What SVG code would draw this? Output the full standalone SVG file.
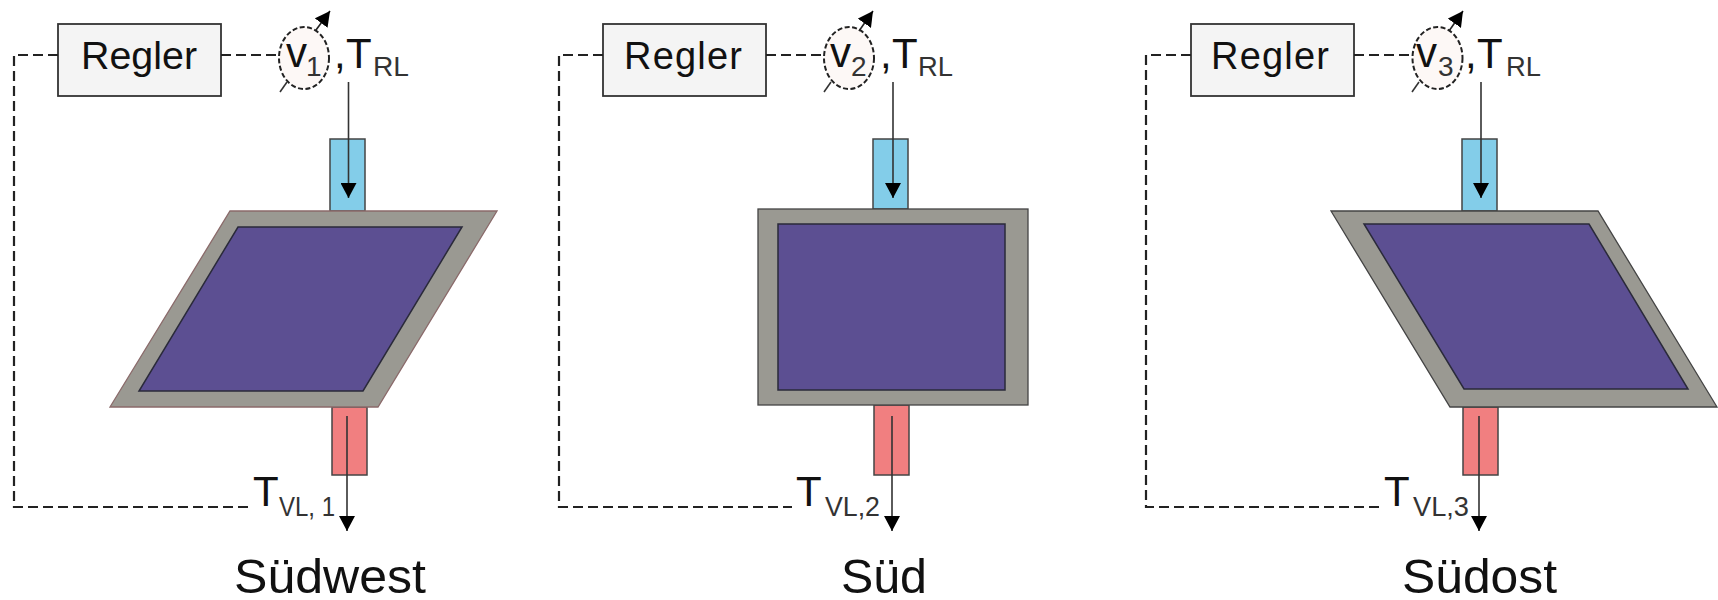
<svg xmlns="http://www.w3.org/2000/svg" width="1718" height="600" viewBox="0 0 1718 600">
<style>
text{font-family:"Liberation Sans",Arial,sans-serif;fill:#111}
.reg{font-size:38px}
.big{font-size:42px}
.sub{font-size:28px;fill:#333}
.cap{font-size:48px}
.box{fill:#f4f4f4;stroke:#333;stroke-width:1.8}
.blue{fill:#83cde9;stroke:#444;stroke-width:1.5}
.red{fill:#f17f80;stroke:#444;stroke-width:1.5}
.frame{fill:#9a9992;stroke:#444;stroke-width:1.3}
.frame1{fill:#9a9992;stroke:#8a6a6a;stroke-width:1.3}
.panel{fill:#5c4f92;stroke:#2a2a3a;stroke-width:1.5}
.valve{fill:#fdf8f6;stroke:#222;stroke-width:2;stroke-dasharray:5 2.500}
.dash{fill:none;stroke:#222;stroke-width:2.200;stroke-dasharray:10 5}
.flow{fill:none;stroke:#333;stroke-width:1.6}
.flowa{fill:none;stroke:#333;stroke-width:1.6;marker-end:url(#head)}
.act{fill:none;stroke:#222;stroke-width:1.6;marker-end:url(#head)}
</style>
<defs>
<marker id="head" markerUnits="userSpaceOnUse" markerWidth="16" markerHeight="16" refX="15" refY="8" orient="auto"><path d="M0 0L15 8L0 16Z" fill="#000"/></marker>
</defs>

<g id="sued-west">
<rect class="blue" x="330" y="139" width="35" height="72"/>
<rect class="red" x="332" y="407" width="35" height="68"/>
<path class="frame1" d="M230 211H497L378 407H110Z"/>
<path class="panel" d="M238 227H462L363 391H139Z"/>
<rect class="box" x="58" y="24" width="163" height="72"/>
<text class="reg" x="81" y="69" textLength="116" lengthAdjust="spacingAndGlyphs">Regler</text>
<ellipse class="valve" cx="304" cy="58" rx="25" ry="31"/>
<text class="big" x="286" y="67">v</text><text class="sub" x="306" y="76">1</text>
<text class="big" x="334" y="68">,</text><text class="big" x="346" y="68">T</text><text class="sub" x="373" y="76" textLength="36" lengthAdjust="spacingAndGlyphs">RL</text>
<text class="big" x="253" y="506">T</text><text class="sub" x="279" y="516" textLength="56" lengthAdjust="spacingAndGlyphs">VL, 1</text>
<text class="cap" x="234" y="593" textLength="192" lengthAdjust="spacingAndGlyphs">Südwest</text>
</g>

<g id="sued">
<rect class="blue" x="873" y="139" width="35" height="70"/>
<rect class="red" x="874" y="405" width="35" height="70"/>
<rect class="frame" x="758" y="209" width="270" height="196"/>
<rect class="panel" x="778" y="224" width="227" height="166"/>
<rect class="box" x="603" y="24" width="163" height="72"/>
<text class="reg" x="624" y="69" textLength="118" lengthAdjust="spacing">Regler</text>
<ellipse class="valve" cx="849" cy="58" rx="25" ry="31"/>
<text class="big" x="830" y="67">v</text><text class="sub" x="851" y="76">2</text>
<text class="big" x="880" y="68">,</text><text class="big" x="892" y="68">T</text><text class="sub" x="918" y="76" textLength="35" lengthAdjust="spacingAndGlyphs">RL</text>
<text class="big" x="796" y="506">T</text><text class="sub" x="825" y="516" textLength="55" lengthAdjust="spacingAndGlyphs">VL,2</text>
<text class="cap" x="841" y="593" textLength="86" lengthAdjust="spacingAndGlyphs">Süd</text>
</g>

<g id="suedost">
<rect class="blue" x="1462" y="139" width="35" height="72"/>
<rect class="red" x="1463" y="407" width="35" height="68"/>
<path class="frame" d="M1331 211H1598L1717 407H1450Z"/>
<path class="panel" d="M1364 224H1589L1688 389H1464Z"/>
<rect class="box" x="1191" y="24" width="163" height="72"/>
<text class="reg" x="1211" y="69" textLength="118" lengthAdjust="spacing">Regler</text>
<ellipse class="valve" cx="1437.500" cy="58" rx="25" ry="31"/>
<text class="big" x="1416" y="67">v</text><text class="sub" x="1438" y="76">3</text>
<text class="big" x="1465" y="68">,</text><text class="big" x="1477" y="68">T</text><text class="sub" x="1506" y="76" textLength="35" lengthAdjust="spacingAndGlyphs">RL</text>
<text class="big" x="1384" y="506">T</text><text class="sub" x="1413" y="516" textLength="56" lengthAdjust="spacingAndGlyphs">VL,3</text>
<text class="cap" x="1402" y="593" textLength="155" lengthAdjust="spacingAndGlyphs">Südost</text>
</g>

<g id="connectors">
<path class="dash" d="M58 55H14V507H248"/>
<path class="dash" d="M221 55H280"/>
<path class="flow" d="M280 92L287 82"/>
<path class="act" d="M316 30L330 11"/>
<path class="flowa" d="M348.500 82V198"/>
<path class="flowa" d="M347 416V531"/>

<path class="dash" d="M603 55H559V507H792"/>
<path class="dash" d="M766 55H824"/>
<path class="flow" d="M824 92L831 82"/>
<path class="act" d="M859 31L873 11"/>
<path class="flowa" d="M893 82V198"/>
<path class="flowa" d="M892 416V531"/>

<path class="dash" d="M1191 55H1146V507H1379"/>
<path class="dash" d="M1354 55H1413"/>
<path class="flow" d="M1412 92L1419 82"/>
<path class="act" d="M1449 31L1463 11"/>
<path class="flowa" d="M1481 82V198"/>
<path class="flowa" d="M1479 416V531"/>
</g>
</svg>
